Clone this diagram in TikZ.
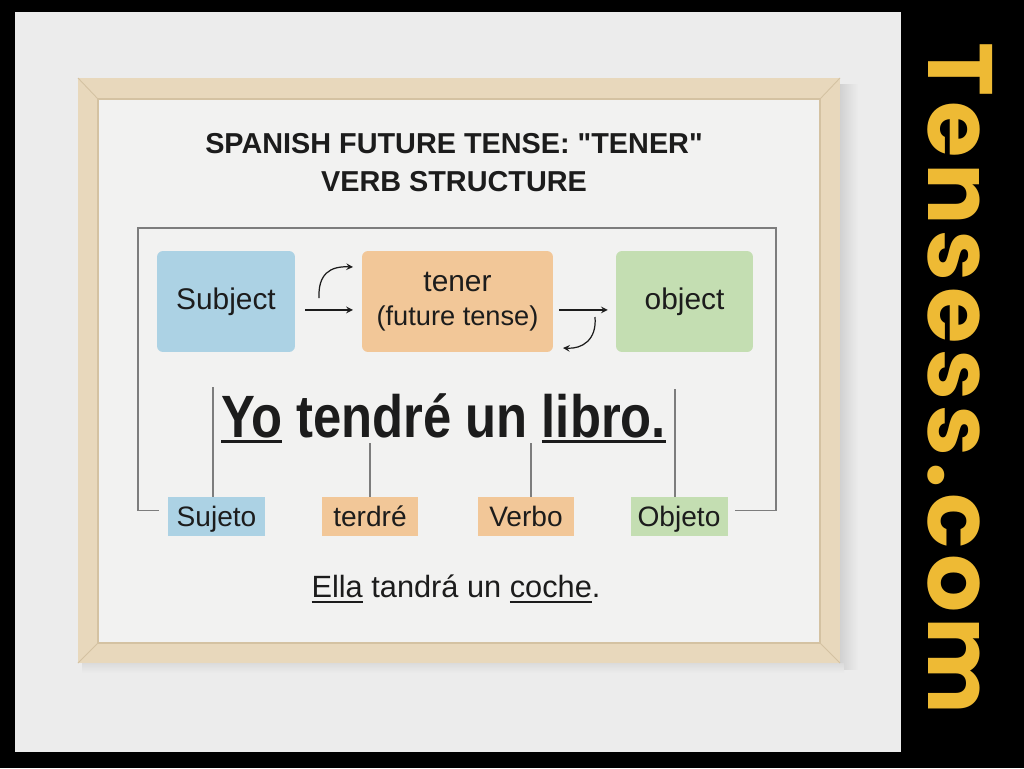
\documentclass[tikz,border=0pt]{standalone}
\usepackage{fontspec}
\setmainfont{Liberation Sans}
\newfontfamily\condfont{Liberation Sans}[FakeStretch=0.85]
\newfontfamily\brandfont{Poppins}[LetterSpace=6]
\usetikzlibrary{arrows,positioning,shapes}
\definecolor{wall}{RGB}{236,236,236}
\definecolor{paper}{RGB}{242,242,241}
\definecolor{wood}{RGB}{232,216,188}
\definecolor{wooddark}{RGB}{212,194,162}
\definecolor{ink}{RGB}{28,28,28}
\definecolor{linegray}{RGB}{125,125,125}
\definecolor{blueS}{RGB}{172,210,228}
\definecolor{orangeS}{RGB}{242,199,152}
\definecolor{greenS}{RGB}{196,222,178}
\definecolor{brand}{RGB}{238,186,52}
\newsavebox\ulbox
\newcommand{\ulbig}[1]{\sbox\ulbox{#1}\rlap{\rule[-3.4pt]{\wd\ulbox}{1.6pt}}\usebox\ulbox}
\newcommand{\ulsmall}[1]{\sbox\ulbox{#1}\rlap{\rule[-3.2pt]{\wd\ulbox}{1.1pt}}\usebox\ulbox}
\tikzset{
  mainbox/.style={rounded corners=3.4pt, minimum height=2.02cm, inner sep=0pt, text=ink, font=\fontsize{17}{17}\selectfont},
  tagbox/.style={minimum width=1.94cm, minimum height=0.78cm, inner sep=0pt, text height=11.5pt, text depth=0pt, text=ink, font=\fontsize{16}{16}\selectfont},
  link/.style={draw=linegray, line width=0.6pt},
  arr/.style={->, >=stealth, draw=ink, line width=0.7pt}
}

\begin{document}
\begin{tikzpicture}[x=0.02cm,y=-0.02cm]
\fill[black] (0,0) rectangle (1024,768);
\fill[wall] (15,12) rectangle (901,752);
\shade[left color=black!18, right color=wall] (840,84) rectangle (858,669);
\shade[top color=black!14, bottom color=wall] (82,663) rectangle (844,673);
\fill[wood] (78,78) rectangle (840,663);
\fill[paper] (98,99) rectangle (820,643);
\draw[wooddark, line width=0.5pt] (78,78) -- (98,99) (840,78) -- (820,99) (78,663) -- (98,643) (840,663) -- (820,643);
\draw[wooddark, line width=0.8pt] (98,99) rectangle (820,643);

\node[text=ink, font=\fontsize{16.4}{20}\bfseries, anchor=base] (title) at (454,153) {SPANISH FUTURE TENSE: \textquotedbl TENER\textquotedbl};
\node[text=ink, font=\fontsize{16.4}{20}\bfseries, anchor=base] (title2) at (454,191) {VERB STRUCTURE};

\node[mainbox, fill=blueS, minimum width=2.76cm] (subj) at (226,301.5) {Subject};
\node[mainbox, fill=orangeS, minimum width=3.82cm, align=center] (tener) at (457.5,301.5) {tener\\[2pt]\fontsize{15.5}{17}\selectfont(future tense)};
\node[mainbox, fill=greenS, minimum width=2.74cm] (obj) at (684.5,301.5) {object};

\coordinate (a1) at (319,298);
\coordinate (a2) at (353,267);
\coordinate (b1) at (595,317);
\coordinate (b2) at (563,348);
\draw[arr] (a1) .. controls (318,274) and (330,266) .. (a2);
\draw[arr, shorten <=5.7pt, shorten >=5pt] ([yshift=-4.8pt]subj.east) -- ([yshift=-4.8pt]tener.west);
\draw[arr, shorten <=3.4pt, shorten >=4.5pt] ([yshift=-4.8pt]tener.east) -- ([yshift=-4.8pt]obj.west);
\draw[arr] (b1) .. controls (597,340) and (582,349) .. (b2);

\node[text=ink, anchor=base, font=\condfont\fontsize{34}{34}\bfseries] (sent) at (443.5,437) {\ulbig{Yo} tendré un \ulbig{libro.}};

\node[tagbox, fill=blueS] (suj) at (216.5,516.5) {Sujeto};
\node[tagbox, fill=orangeS] (ter) at (370,516.5) {terdré};
\node[tagbox, fill=orangeS] (ver) at (526,516.5) {Verbo};
\node[tagbox, fill=greenS] (objt) at (679,516.5) {Objeto};

\coordinate (yo) at (213,387);
\coordinate (tnd) at (370,443);
\coordinate (vrb) at (531,443);
\coordinate (lib) at (675,389);
\draw[link] (yo) -- (yo |- suj.north);
\draw[link] (tnd) -- (tnd |- ter.north);
\draw[link] (vrb) -- (vrb |- ver.north);
\draw[link] (lib) -- (lib |- objt.north);

\coordinate (bl) at (138,228);
\coordinate (br) at (776,228);
\draw[link] ([shift={(-5pt,3.6pt)}]suj.west) -| (bl) -- (br) |- ([shift={(4pt,3.6pt)}]objt.east);

\node[text=ink, anchor=base, font=\fontsize{17.5}{20}\selectfont] (ex) at (456,597) {\ulsmall{Ella} tandrá un \ulsmall{coche}.};

\node[text=brand, rotate=-90, anchor=base, font=\brandfont\fontsize{52}{52}\bfseries] (brandname) at (928,378.5) {Tensess.com};
\end{tikzpicture}
\end{document}
